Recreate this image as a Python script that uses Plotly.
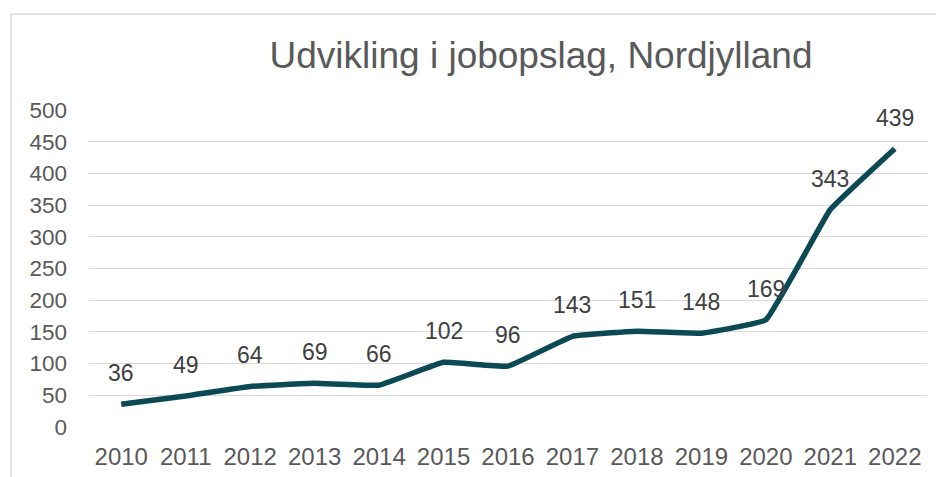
import plotly.graph_objects as go

years = ["2010", "2011", "2012", "2013", "2014", "2015", "2016",
         "2017", "2018", "2019", "2020", "2021", "2022"]
values = [36, 49, 64, 69, 66, 102, 96, 143, 151, 148, 169, 343, 439]
y_ticks = [0, 50, 100, 150, 200, 250, 300, 350, 400, 450, 500]

LINE = "#0B4A55"
TEXT = "#595959"
FONT = "Liberation Sans, Arial, sans-serif"

W, H = 936, 469
L, R, T, B = 81, 17, 102, 50
PW, PH = W - L - R, H - T - B

fig = go.Figure()
fig.add_trace(go.Scatter(
    x=list(range(len(years))), y=values, mode="lines",
    line=dict(color=LINE, width=5.5, shape="spline", smoothing=0.25),
    hoverinfo="skip", showlegend=False,
))

for i, v in enumerate(values):
    fig.add_annotation(x=i, y=v, text=str(v), showarrow=False, yshift=31,
                       font=dict(family=FONT, size=23, color="#404040"))

fig.update_layout(
    width=W, height=H,
    margin=dict(l=L, r=R, t=T, b=B, autoexpand=False),
    paper_bgcolor="white", plot_bgcolor="white",
    font=dict(family=FONT, size=22, color=TEXT),
    title=dict(text="Udvikling i jobopslag, Nordjylland", xref="paper", yref="container",
               x=(533 - L) / PW, xanchor="center", y=1 - 47 / H, yanchor="middle",
               font=dict(family=FONT, size=37, color=TEXT)),
    xaxis=dict(range=[-0.5, 12.5], tickvals=list(range(len(years))), ticktext=years,
               showgrid=False, zeroline=False, showline=False, ticks="", automargin=False,
               tickfont=dict(size=24, color=TEXT), ticklabelstandoff=13),
    yaxis=dict(range=[0, 500], tickvals=y_ticks, showgrid=True, gridcolor="#D9D9D9",
               gridwidth=1.3, zeroline=False, showline=False, ticks="", automargin=False,
               tickfont=dict(size=22.5, color=TEXT), ticklabelstandoff=21),
    shapes=[dict(type="rect", xref="paper", yref="paper", layer="below",
                 x0=(3 - L) / PW, x1=1.2, y0=-0.5, y1=1 + (T - 6) / PH,
                 line=dict(color="#D9D9D9", width=1.5))],
)

fig.write_html("out.html")
